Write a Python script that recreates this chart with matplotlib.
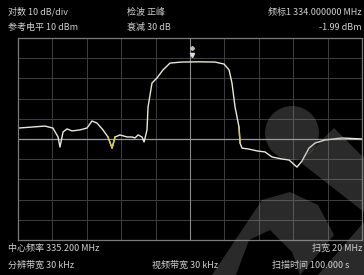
import matplotlib
matplotlib.use("Agg")
import matplotlib.pyplot as plt
import numpy as np
from matplotlib.patches import Circle, Polygon

plt.rcParams['font.family'] = ['Noto Sans CJK SC', 'DejaVu Sans']

# spectrum analyser settings
center_mhz = 335.2
span_mhz = 20.0
ref_dbm = 10.0
db_per_div = 10.0

# trace (MHz, dBm)
freq = [325.20, 326.77, 327.23, 327.53, 327.64, 327.82, 328.05, 328.34, 328.80,
        329.21, 329.50, 329.79, 330.14, 330.43, 330.67, 330.84, 331.13, 331.54,
        331.83, 332.00, 332.18, 332.41, 332.53, 332.70, 332.76, 332.99, 333.28,
        333.63, 334.04, 334.74, 335.70, 336.65, 337.18, 337.47, 337.64, 337.82,
        338.05, 338.11, 338.22, 338.63, 339.10, 339.56, 339.97, 340.55, 340.96,
        341.42, 341.71, 342.12, 342.47, 343.05, 344.04, 345.20]
level = [-34.6, -33.6, -34.6, -39.0, -44.0, -36.5, -35.0, -36.0, -35.5,
         -34.6, -31.1, -32.1, -35.5, -39.0, -44.5, -39.0, -38.0, -39.0,
         -39.0, -39.5, -38.0, -39.0, -41.5, -35.5, -24.2, -12.3, -9.8,
         -5.8, -2.4, -1.9, -1.8, -1.9, -2.9, -5.8, -12.3, -24.2,
         -34.1, -42.0, -44.5, -45.0, -45.9, -46.4, -48.9, -49.9, -50.4,
         -53.9, -50.9, -44.5, -42.0, -40.5, -39.5, -40.0]

marker_mhz = 335.3
marker_dbm = -1.99

header_left = ["对数 10 dB/div", "参考电平 10 dBm"]
header_mid = ["检波 正峰", "衰减 30 dB"]
header_right = ["频标1 334.000000 MHz", "-1.99 dBm"]
footer = ["中心频率 335.200 MHz", "扫宽 20 MHz",
          "分辨带宽 30 kHz", "视频带宽 30 kHz", "扫描时间 100.000 s"]

W, H = 364, 275
fig = plt.figure(figsize=(W / 100, H / 100), dpi=100, facecolor='black')


def fx(x):
    return x / W


def fy(y):
    return 1 - y / H


ax = fig.add_axes([fx(18), fy(240), fx(362) - fx(18), fy(38) - fy(240)])
ax.set_facecolor('black')
lo = center_mhz - span_mhz / 2
hi = center_mhz + span_mhz / 2
ax.set_xlim(lo, hi)
ax.set_ylim(ref_dbm - 10 * db_per_div, ref_dbm)
ax.set_xticks(np.linspace(lo, hi, 11))
ax.set_yticks(np.linspace(ref_dbm - 10 * db_per_div, ref_dbm, 11))
ax.grid(True, color='#3e3e3e', lw=0.7)
ax.tick_params(length=0, labelbottom=False, labelleft=False)
for s in ax.spines.values():
    s.set_color('#7a7a7a')
    s.set_linewidth(0.9)
ax.axhline(-40, color='#9a9a9a', lw=0.9)
ax.axvline(center_mhz, color='#8a8a8a', lw=0.8)

ax.plot(freq, level, color='#e8e8dc', lw=1.0)
# yellowish bits of the trace
ax.plot(freq[13:16], level[13:16], color='#d8c840', lw=1.0)
ax.plot(freq[36:38], level[36:38], color='#d8c840', lw=1.0)
ax.plot([marker_mhz], [marker_dbm + 3.5], marker='v', ms=3, color='#e0e0e0')
ax.plot([marker_mhz], [marker_dbm + 7], marker='D', ms=2, color='#c0c0c0')

tc = '#d0d0d0'
fs = 6.5
fig.text(fx(8), fy(12), header_left[0], color=tc, fontsize=fs, va='center')
fig.text(fx(8), fy(27), header_left[1], color=tc, fontsize=fs, va='center')
fig.text(fx(127), fy(12), header_mid[0], color=tc, fontsize=fs, va='center')
fig.text(fx(127), fy(27), header_mid[1], color=tc, fontsize=fs, va='center')
fig.text(fx(362), fy(12), header_right[0], color=tc, fontsize=fs, va='center', ha='right')
fig.text(fx(362), fy(27), header_right[1], color=tc, fontsize=fs, va='center', ha='right')
fig.text(fx(8), fy(248), footer[0], color=tc, fontsize=fs, va='center')
fig.text(fx(362), fy(248), footer[1], color=tc, fontsize=fs, va='center', ha='right')
fig.text(fx(8), fy(265), footer[2], color=tc, fontsize=fs, va='center')
fig.text(fx(152), fy(265), footer[3], color=tc, fontsize=fs, va='center')
fig.text(fx(272), fy(265), footer[4], color=tc, fontsize=fs, va='center')

# faint watermark in the lower right
wm = dict(facecolor='#9a9a9a', edgecolor='none', alpha=0.28, transform=None)


def pix(pts):
    return [(x, H - y) for x, y in pts]


fig.add_artist(Circle(pix([(292, 133)])[0], 27, **wm))
fig.add_artist(Polygon(pix([(300, 162), (334, 128), (364, 158), (364, 212)]), **wm))
fig.add_artist(Polygon(pix([(212, 275), (262, 200), (290, 192), (318, 205),
                            (334, 235), (300, 275), (292, 252), (270, 230),
                            (249, 240), (236, 275)]), **wm))
fig.add_artist(Polygon(pix([(318, 275), (364, 222), (364, 275)]), **wm))

fig.savefig('out.png', dpi=100, facecolor='black')
